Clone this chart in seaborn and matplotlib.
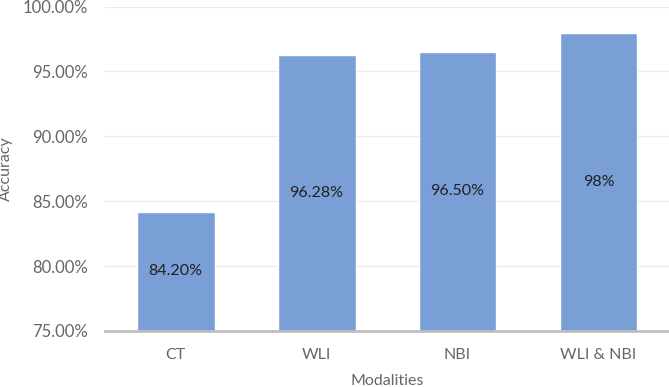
import matplotlib
matplotlib.use("Agg")
import matplotlib.pyplot as plt
import seaborn as sns
import pandas as pd
from matplotlib.ticker import PercentFormatter

# data
modalities = ["CT", "WLI", "NBI", "WLI & NBI"]
accuracy = [84.20, 96.28, 96.50, 98.0]
labels = ["84.20%", "96.28%", "96.50%", "98%"]

df = pd.DataFrame({"Modalities": modalities, "Accuracy": accuracy})

sns.set_theme(style="white")
plt.rcParams["font.family"] = ["Lato", "DejaVu Sans"]

fig = plt.figure(figsize=(6.69, 3.87), dpi=100)
ax = fig.add_axes([0.157, 0.145, 0.843, 0.838])

sns.barplot(data=df, x="Modalities", y="Accuracy", color="#7a9ed6",
            saturation=1, width=0.553, ax=ax)

ymin = 75
ax.set_ylim(ymin, 100)
ax.set_xlim(-0.5, 3.5)
ax.set_yticks([75, 80, 85, 90, 95, 100])
ax.yaxis.set_major_formatter(PercentFormatter(decimals=2))
ax.grid(axis="y", color="#ebebeb", linewidth=1)
ax.set_axisbelow(True)

for s in ["top", "right", "left"]:
    ax.spines[s].set_visible(False)
ax.spines["bottom"].set_color("#bfbfbf")
ax.spines["bottom"].set_linewidth(2)

ax.tick_params(axis="both", length=0, labelsize=12, colors="#666666")
ax.tick_params(axis="x", pad=12, labelsize=11.5)
ax.tick_params(axis="y", pad=12)

for i, (v, t) in enumerate(zip(accuracy, labels)):
    ax.text(i, (ymin + v) / 2, t, ha="center", va="center",
            fontsize=11.5, color="#222222")

ax.set_xlabel("Modalities", fontsize=11.5, color="#666666", labelpad=9)
ax.set_ylabel("Accuracy", fontsize=11.5, color="#666666")
ax.yaxis.set_label_coords(-0.163, 0.5)

fig.savefig("out.png", dpi=100)
